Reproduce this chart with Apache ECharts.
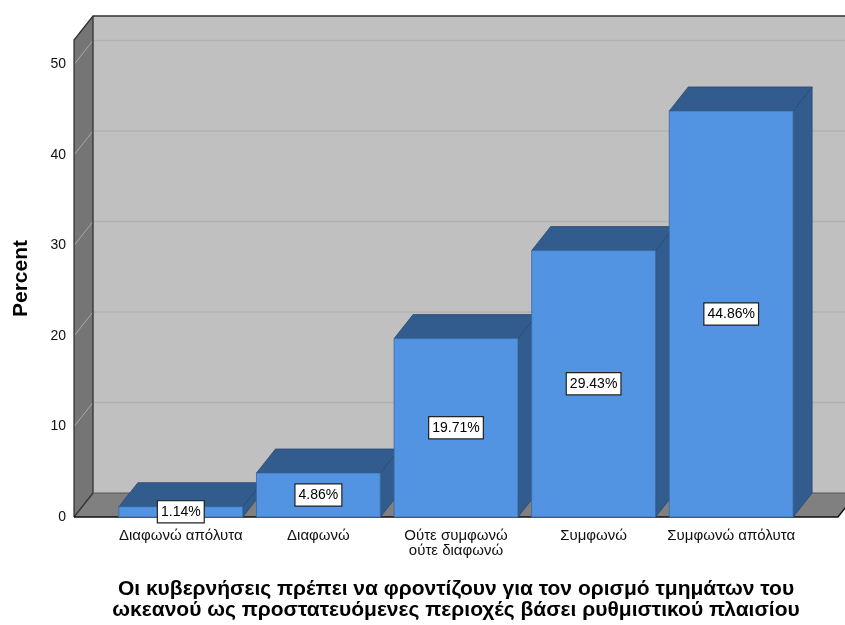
<!DOCTYPE html>
<html>
<head>
<meta charset="utf-8">
<script src="https://cdn.jsdelivr.net/npm/echarts@6/dist/echarts.min.js"></script>
<style>html,body{margin:0;padding:0;background:#fff;}#c{width:845px;height:625px;}</style>
</head>
<body>
<div id="c"></div>
<script>
const categories = ['Διαφωνώ απόλυτα', 'Διαφωνώ', 'Ούτε συμφωνώ\nούτε διαφωνώ', 'Συμφωνώ', 'Συμφωνώ απόλυτα'];
const percents = [1.14, 4.86, 19.71, 29.43, 44.86];
const yTicks = [0, 10, 20, 30, 40, 50];
const xTitle = 'Οι κυβερνήσεις πρέπει να φροντίζουν για τον ορισμό τμημάτων του\nωκεανού ως προστατευόμενες περιοχές βάσει ρυθμιστικού πλαισίου';
const yTitle = 'Percent';

const DX = 19, DY = 24;
const FONT = 'Liberation Sans, Arial, sans-serif';

const chart = echarts.init(document.getElementById('c'), null, {renderer: 'canvas'});

function renderWalls(params, api) {
  const cs = params.coordSys;
  const band = api.size([1, 0])[0];
  const m = band * 0.276;
  const L = cs.x - m, R = cs.x + cs.width + m;
  const B = api.coord([0, 0])[1];
  const T = cs.y;
  const children = [];
  children.push({type: 'rect', shape: {x: L + DX, y: T - DY, width: R - L + 40, height: B - T}, style: {fill: '#c0c0c0'}});
  children.push({type: 'polygon', shape: {points: [[L, T], [L + DX, T - DY], [L + DX, B - DY], [L, B]]}, style: {fill: '#757575'}});
  children.push({type: 'polygon', shape: {points: [[L, B], [L + DX, B - DY], [R + DX, B - DY], [R, B]]}, style: {fill: '#808080'}});
  yTicks.forEach(function (v) {
    if (v === 0) return;
    const y = api.coord([0, v])[1];
    children.push({type: 'line', shape: {x1: L + DX, y1: y - DY, x2: R + 60, y2: y - DY}, style: {stroke: '#b2b2b2', lineWidth: 1.5}});
    children.push({type: 'line', shape: {x1: L, y1: y, x2: L + DX, y2: y - DY}, style: {stroke: '#a8a8a8', lineWidth: 1}});
  });
  const edge = {stroke: '#333', lineWidth: 1.3, fill: null};
  children.push({type: 'polyline', shape: {points: [[L, B], [L, T], [L + DX, T - DY], [R + 60, T - DY]]}, style: edge});
  children.push({type: 'line', shape: {x1: L + DX, y1: T - DY, x2: L + DX, y2: B - DY}, style: edge});
  children.push({type: 'line', shape: {x1: L + DX, y1: B - DY, x2: R + DX, y2: B - DY}, style: {stroke: '#555', lineWidth: 1}});
  children.push({type: 'line', shape: {x1: L, y1: B, x2: L + DX, y2: B - DY}, style: edge});
  children.push({type: 'polyline', shape: {points: [[L, B], [R, B], [R + DX, B - DY]]}, style: {stroke: '#111', lineWidth: 1.5, fill: null}});
  return {type: 'group', children: children};
}

function renderBar(params, api) {
  const idx = api.value(0);
  const val = api.value(1);
  const top = api.coord([idx, val]);
  const bot = api.coord([idx, 0]);
  const w = api.size([1, 0])[0] * 0.9;
  const x0 = top[0] - w / 2, x1 = top[0] + w / 2;
  const yt = top[1], yb = bot[1];
  const dark = '#325b8e';
  const stroke = '#2a4a72';
  return {
    type: 'group',
    children: [
      {type: 'polygon', shape: {points: [[x1, yt], [x1 + DX, yt - DY], [x1 + DX, yb - DY], [x1, yb]]}, style: {fill: dark, stroke: stroke, lineWidth: 0.8}},
      {type: 'polygon', shape: {points: [[x0, yt], [x0 + DX, yt - DY], [x1 + DX, yt - DY], [x1, yt]]}, style: {fill: dark, stroke: stroke, lineWidth: 0.8}},
      {type: 'rect', shape: {x: x0, y: yt, width: x1 - x0, height: yb - yt}, style: {fill: '#5294e2', stroke: '#3a6aa0', lineWidth: 0.8}},
      {type: 'text', x: top[0], y: (yt + yb) / 2, style: {
        text: val.toFixed(2) + '%', font: '14px ' + FONT, fill: '#000', align: 'center', verticalAlign: 'middle',
        backgroundColor: '#fff', borderColor: '#222', borderWidth: 1.2, padding: [4, 3, 3, 3]
      }, z2: 10}
    ]
  };
}

chart.setOption({
  animation: false,
  backgroundColor: '#fff',
  grid: {left: 112, right: 45, top: 40, bottom: 108, outerBoundsMode: 'none', containLabel: false},
  xAxis: {
    type: 'category',
    data: categories,
    axisLine: {show: false},
    axisTick: {show: false},
    axisLabel: {margin: 11, fontSize: 15, fontFamily: FONT, color: '#111', lineHeight: 15, interval: 0},
    name: xTitle,
    nameLocation: 'middle',
    nameGap: 62,
    nameTextStyle: {fontSize: 21, fontWeight: 'bold', fontFamily: FONT, color: '#000', lineHeight: 21}
  },
  yAxis: {
    type: 'value',
    min: 0, max: 52.7, interval: 10,
    axisLine: {show: false},
    axisTick: {show: false},
    splitLine: {show: false},
    axisLabel: {margin: 46, fontSize: 14, fontFamily: FONT, color: '#111', showMaxLabel: false},
    name: yTitle,
    nameLocation: 'middle',
    nameGap: 80,
    nameRotate: 90,
    nameTextStyle: {fontSize: 21, fontWeight: 'bold', fontFamily: FONT, color: '#000'}
  },
  series: [
    {type: 'custom', renderItem: renderWalls, data: [[0, 0]], z: 1, silent: true, clip: false},
    {type: 'custom', renderItem: renderBar, data: percents.map(function (v, i) { return [i, v]; }), z: 2, clip: false}
  ]
});
</script>
</body>
</html>
